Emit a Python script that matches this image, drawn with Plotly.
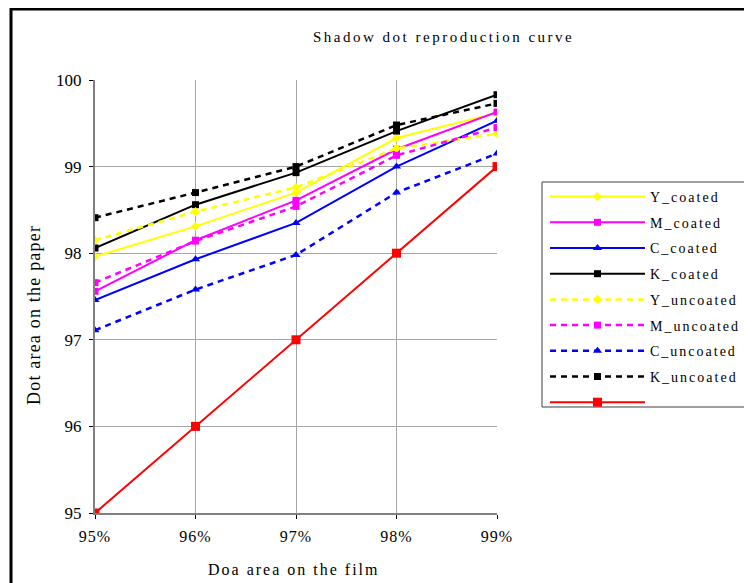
import plotly.graph_objects as go

film = [95, 96, 97, 98, 99]
x_tick_labels = ["95%", "96%", "97%", "98%", "99%"]
y_ticks = [95, 96, 97, 98, 99, 100]
y_tick_labels = ["95", "96", "97", "98", "99", "100"]

y_coated = [97.96, 98.31, 98.70, 99.33, 99.62]
m_coated = [97.56, 98.15, 98.61, 99.20, 99.63]
c_coated = [97.46, 97.93, 98.35, 99.00, 99.53]
k_coated = [98.06, 98.56, 98.93, 99.41, 99.83]
y_uncoated = [98.15, 98.48, 98.76, 99.21, 99.38]
m_uncoated = [97.66, 98.14, 98.54, 99.13, 99.45]
c_uncoated = [97.11, 97.58, 97.98, 98.70, 99.15]
k_uncoated = [98.41, 98.70, 99.00, 99.48, 99.73]
reference = [95, 96, 97, 98, 99]

series = [
    ("Y_coated", y_coated, "#FFFF00", "solid", "diamond", 7),
    ("M_coated", m_coated, "#FF00FF", "solid", "square", 7),
    ("C_coated", c_coated, "#0000FF", "solid", "triangle-up", 8),
    ("K_coated", k_coated, "#000000", "solid", "square", 7),
    ("Y_uncoated", y_uncoated, "#FFFF00", "6px,5px", "diamond", 7),
    ("M_uncoated", m_uncoated, "#FF00FF", "6px,5px", "square", 7),
    ("C_uncoated", c_uncoated, "#0000FF", "6px,5px", "triangle-up", 8),
    ("K_uncoated", k_uncoated, "#000000", "6px,5px", "square", 7),
    (" ", reference, "#FF0000", "solid", "square", 9),
]


def spaced(text, px_sp):
    return f'<span style="letter-spacing:{px_sp}px">{text}</span>'


fig = go.Figure()
for i, (name, vals, color, dash, sym, size) in enumerate(series):
    fig.add_trace(go.Scatter(
        x=film, y=vals, name=spaced(name, 2), mode="lines+markers",
        line=dict(color=color, width=2 if dash == "solid" else 2.5, dash=dash),
        marker=dict(symbol=sym, size=size, color=color),
        legendgroup=f"g{i}",
    ))

font = "Liberation Serif"
W, H = 752, 583
OFF = 8  # page offset of the figure inside the browser window
L, R, T, B = 95, 497, 80, 513  # plot area in window pixels
pw, ph = R - L, B - T


def px(xp):
    return (xp - L) / pw


def py(yp):
    return 1 - (yp - T) / ph


fig.update_layout(
    width=W, height=H,
    margin=dict(l=L - OFF, r=W - (R - OFF), t=T - OFF, b=H - (B - OFF), pad=0),
    paper_bgcolor="white", plot_bgcolor="white",
    font=dict(family=font, size=14, color="black"),
    showlegend=True,
    legend=dict(
        x=px(545), y=py(181), xanchor="left", yanchor="top",
        bgcolor="rgba(0,0,0,0)", borderwidth=0,
        font=dict(family=font, size=14, color="black"),
        itemwidth=95, tracegroupgap=4.5, traceorder="grouped",
    ),
    annotations=[
        dict(text=spaced("Shadow dot reproduction curve", 2.5), x=px(443), y=py(37),
             xref="paper", yref="paper", showarrow=False,
             xanchor="center", yanchor="middle",
             font=dict(family=font, size=15)),
        dict(text=spaced("Doa area on the film", 2), x=px(294), y=py(569),
             xref="paper", yref="paper", showarrow=False,
             xanchor="center", yanchor="middle",
             font=dict(family=font, size=16)),
        dict(text=spaced("Dot area on the paper", 1.2), x=px(34), y=py(315),
             xref="paper", yref="paper", showarrow=False, textangle=-90,
             xanchor="center", yanchor="middle",
             font=dict(family=font, size=18)),
    ],
    shapes=[
        dict(type="rect", xref="paper", yref="paper",
             x0=px(11), x1=px(790), y0=py(640), y1=py(9),
             line=dict(color="black", width=3), fillcolor="rgba(0,0,0,0)", layer="below"),
        dict(type="rect", xref="paper", yref="paper",
             x0=px(542), x1=px(750), y0=py(407), y1=py(182),
             line=dict(color="#404040", width=1), fillcolor="rgba(0,0,0,0)"),
    ],
)

fig.update_xaxes(
    range=[95, 99], tickvals=film, ticktext=[spaced(t, 1) for t in x_tick_labels],
    showgrid=True, gridcolor="#a6a6a6", gridwidth=1,
    showline=True, linecolor="#808080", linewidth=2,
    ticks="outside", ticklen=4, tickcolor="black", ticklabelstandoff=4,
    tickfont=dict(family=font, size=16, color="black"), zeroline=False,
)
fig.update_yaxes(
    range=[95, 100], tickvals=y_ticks, ticktext=y_tick_labels,
    showgrid=True, gridcolor="#a6a6a6", gridwidth=1,
    showline=True, linecolor="#808080", linewidth=2,
    ticks="outside", ticklen=4, tickcolor="black", ticklabelstandoff=4,
    tickfont=dict(family=font, size=17, color="black"), zeroline=False,
)

fig.write_html("out.html")
